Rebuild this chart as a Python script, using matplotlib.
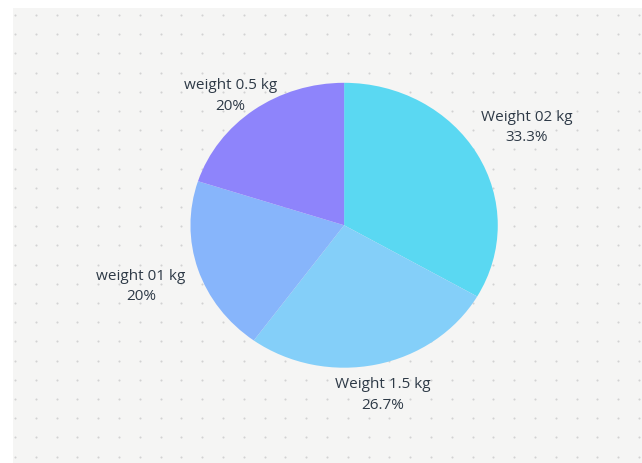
import numpy as np
import matplotlib
matplotlib.use("Agg")
import matplotlib.pyplot as plt

# datos del grafico
etiquetas = ["Weight 02 kg", "Weight 1.5 kg", "weight 01 kg", "weight 0.5 kg"]
valores = [5, 4, 3, 3]
porcentajes = ["33.3%", "26.7%", "20%", "20%"]
colores = ["#5ad8f2", "#84cff9", "#87b5fb", "#8e84fb"]
dist_etiqueta = [1.37, 1.22, 1.39, 1.12]

plt.rcParams["font.family"] = ["Open Sans", "DejaVu Sans"]

fig = plt.figure(figsize=(6.42, 4.63), dpi=100, facecolor="white")

# fondo gris con puntos
fondo = fig.add_axes([0, 0, 1, 1], zorder=0)
fondo.set_xlim(0, 642)
fondo.set_ylim(463, 0)
fondo.axis("off")
fondo.add_patch(plt.Rectangle((13, 8), 642, 463, color="#f5f5f4", lw=0))
px, py = np.meshgrid(np.arange(15, 642, 20.8), np.arange(15, 460, 19.2))
fondo.scatter(px.ravel(), py.ravel(), s=2.2, color="#d2d2d2", lw=0)

ax = fig.add_axes([0.177, 0.052, 0.718, 0.923], zorder=1)
ax.patch.set_alpha(0)
cunas, _ = ax.pie(valores, colors=colores, startangle=90, counterclock=False,
                  wedgeprops=dict(linewidth=0))
ax.set_aspect("auto")
ax.set_xlim(-1.5, 1.5)
ax.set_ylim(-1.5, 1.5)
ax.axis("off")

for cuna, et, pc, d in zip(cunas, etiquetas, porcentajes, dist_etiqueta):
    ang = np.deg2rad((cuna.theta1 + cuna.theta2) / 2)
    x = d * np.cos(ang)
    y = d * np.sin(ang)
    # la etiqueta de 0.5 kg esta un poco mas a la izquierda en el original
    if et == "weight 0.5 kg":
        x -= 0.08
    ax.text(x, y, et + "\n" + pc, ha="center", va="center", fontsize=11,
            color="#2e3a47", linespacing=1.5)

fig.savefig("out.png", dpi=100, facecolor=fig.get_facecolor())
